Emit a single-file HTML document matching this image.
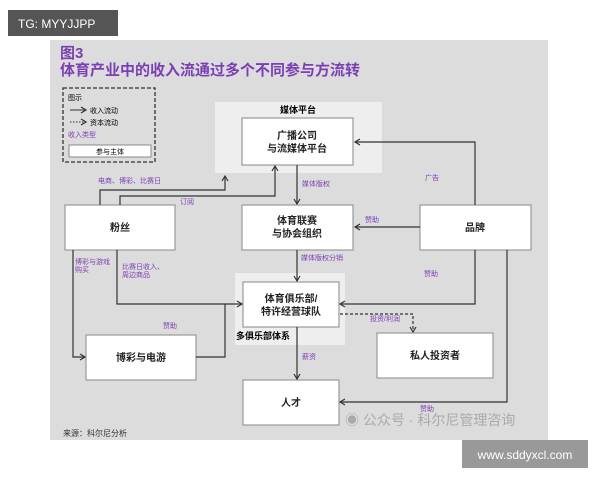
<!DOCTYPE html>
<html><head><meta charset="utf-8"><style>
body{margin:0;width:600px;height:480px;background:#fff;overflow:hidden;font-family:"Liberation Sans","Noto Sans CJK SC",sans-serif}
</style></head><body>
<svg width="600" height="480" xmlns="http://www.w3.org/2000/svg" font-family="Liberation Sans, Noto Sans CJK SC, sans-serif">
<defs><marker id="a" markerWidth="8" markerHeight="8" refX="6" refY="4" orient="auto" markerUnits="userSpaceOnUse"><path d="M1,1 L6,4 L1,7" fill="none" stroke="#333" stroke-width="1.2"/></marker></defs>
<rect x="50" y="40" width="498" height="400" fill="#dcdcdc"/>
<rect x="8" y="10" width="110" height="26" fill="#555"/>
<text x="18" y="28" font-size="12" fill="#fff">TG: MYYJJPP</text>
<rect x="462" y="440" width="126" height="28" fill="#999"/>
<text x="525" y="459" font-size="12" fill="#fff" text-anchor="middle">www.sddyxcl.com</text>
<text x="60" y="58" font-size="15" font-weight="bold" fill="#7b3fb5">图3</text>
<text x="60" y="75" font-size="15" font-weight="bold" fill="#7b3fb5">体育产业中的收入流通过多个不同参与方流转</text>
<rect x="63" y="88" width="92" height="74" fill="none" stroke="#333" stroke-dasharray="4,2" stroke-width="1.3"/>
<text x="68" y="100" font-size="7">图示</text>
<line x1="70" y1="110" x2="86" y2="110" stroke="#333" marker-end="url(#a)"/><text x="90" y="113" font-size="7">收入流动</text>
<line x1="70" y1="122" x2="86" y2="122" stroke="#333" stroke-dasharray="1.5,1.5" marker-end="url(#a)"/><text x="90" y="125" font-size="7">资本流动</text>
<text x="68" y="137" font-size="7" fill="#7b3fb5">收入类型</text>
<rect x="69" y="145" width="82" height="12" fill="#fff" stroke="#888"/><text x="110" y="154" font-size="7" text-anchor="middle">参与主体</text>
<rect x="215" y="102" width="167" height="71" fill="#eee"/>
<text x="298" y="113" font-size="9" font-weight="bold" text-anchor="middle">媒体平台</text>
<rect x="235" y="273" width="110" height="72" fill="#eee"/>
<text x="236" y="339" font-size="9" font-weight="bold">多俱乐部体系</text>
<g fill="#fff" stroke="#999" stroke-width="1.2">
<rect x="242" y="118" width="111" height="47"/>
<rect x="65" y="205" width="110" height="45"/>
<rect x="242" y="205" width="111" height="45"/>
<rect x="420" y="205" width="111" height="45"/>
<rect x="243" y="282" width="96" height="45"/>
<rect x="86" y="335" width="110" height="45"/>
<rect x="377" y="333" width="116" height="45"/>
<rect x="243" y="380" width="96" height="45"/>
</g>
<g font-size="10" font-weight="bold" text-anchor="middle" fill="#222">
<text x="297" y="139">广播公司</text><text x="297" y="152">与流媒体平台</text>
<text x="120" y="231">粉丝</text>
<text x="297" y="224">体育联赛</text><text x="297" y="237">与协会组织</text>
<text x="475" y="231">品牌</text>
<text x="291" y="302">体育俱乐部/</text><text x="291" y="315">特许经营球队</text>
<text x="141" y="361">博彩与电游</text>
<text x="435" y="359">私人投资者</text>
<text x="291" y="406">人才</text>
</g>
<g fill="none" stroke="#333" stroke-width="1.2">
<path d="M100,205 V190 H225 V176" marker-end="url(#a)"/>
<path d="M120,205 V196 H275 V166" marker-end="url(#a)"/>
<path d="M297,165 V204" marker-end="url(#a)"/>
<path d="M475,205 V142 H355" marker-end="url(#a)"/>
<path d="M420,227 H355" marker-end="url(#a)"/>
<path d="M297,250 V281" marker-end="url(#a)"/>
<path d="M73,250 V357 H85" marker-end="url(#a)"/>
<path d="M117,250 V304 H242" marker-end="url(#a)"/>
<path d="M196,357 H225 V304"/>
<path d="M475,250 V304 H340" marker-end="url(#a)"/>
<path d="M507,250 V402 H340" marker-end="url(#a)"/>
<path d="M297,327 V379" marker-end="url(#a)"/>
<path d="M340,314 H413 V332" stroke-dasharray="3,2" marker-end="url(#a)"/>
</g>
<g font-size="7" fill="#7b3fb5">
<text x="98" y="183">电商、博彩、比赛日</text>
<text x="180" y="204">订阅</text>
<text x="302" y="186">媒体版权</text>
<text x="425" y="180">广告</text>
<text x="365" y="222">赞助</text>
<text x="301" y="260">媒体版权分销</text>
<text x="424" y="276">赞助</text>
<text x="75" y="264">博彩与游戏</text><text x="75" y="272">购买</text>
<text x="122" y="269">比赛日收入、</text><text x="122" y="277">周边商品</text>
<text x="163" y="328">赞助</text>
<text x="370" y="321">投资/利润</text>
<text x="302" y="359">薪资</text>
<text x="420" y="411">赞助</text>
</g>
<text x="63" y="436" font-size="8" fill="#333">来源：科尔尼分析</text>
<text x="345" y="425" font-size="14" fill="#aaa">◉ 公众号 · 科尔尼管理咨询</text>
</svg>
</body></html>
